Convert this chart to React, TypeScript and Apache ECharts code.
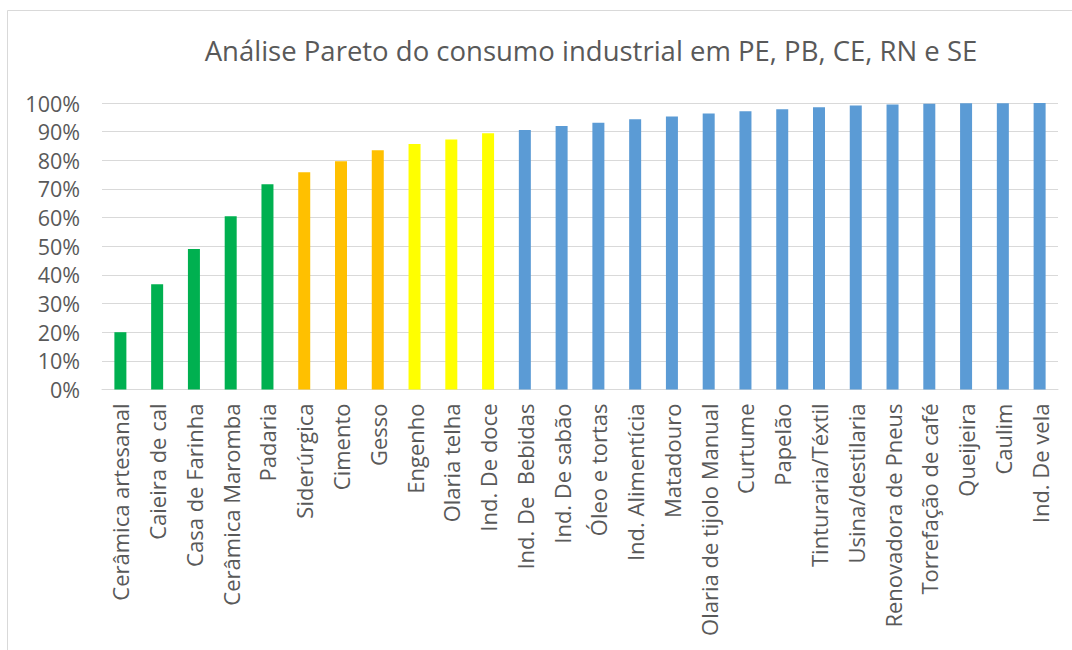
import React, { useEffect, useRef } from "react";
import * as echarts from "echarts";

const categories = [
  "Cerâmica artesanal", "Caieira de cal", "Casa de Farinha", "Cerâmica Maromba", "Padaria",
  "Siderúrgica", "Cimento", "Gesso", "Engenho", "Olaria telha", "Ind. De doce",
  "Ind. De  Bebidas", "Ind. De sabão", "Óleo e tortas", "Ind. Alimentícia", "Matadouro",
  "Olaria de tijolo Manual", "Curtume", "Papelão", "Tinturaria/Téxtil", "Usina/destilaria",
  "Renovadora de Pneus", "Torrefação de café", "Queijeira", "Caulim", "Ind. De vela",
];
const values = [
  0.200, 0.367, 0.490, 0.605, 0.716, 0.758, 0.797, 0.835, 0.857, 0.873, 0.894,
  0.906, 0.920, 0.931, 0.943, 0.953, 0.963, 0.971, 0.978, 0.985, 0.991,
  0.995, 0.997, 0.999, 0.999, 1.0,
];
const groups = [
  "A", "A", "A", "A", "A", "B", "B", "B", "C", "C", "C",
  "D", "D", "D", "D", "D", "D", "D", "D", "D", "D", "D", "D", "D", "D", "D",
];
const groupColors: Record<string, string> = {
  A: "#00B050",
  B: "#FFC000",
  C: "#FFFF00",
  D: "#5B9BD5",
};
const title = "Análise Pareto do consumo industrial em PE, PB, CE, RN e SE";

export default function App() {
  const ref = useRef<HTMLDivElement>(null);
  useEffect(() => {
    if (!ref.current) return;
    const chart = echarts.init(ref.current, undefined, { renderer: "svg" });
    chart.setOption({
      animation: false,
      backgroundColor: "#ffffff",
      title: {
        text: title,
        left: 586,
        top: 31,
        textAlign: "center",
        textStyle: {
          fontFamily: "Open Sans",
          fontWeight: "normal",
          fontSize: 27.5,
          color: "#595959",
        },
      },
      graphic: [
        {
          type: "rect",
          shape: { x: 7.5, y: 10.5, width: 1100, height: 700 },
          style: { fill: "none", stroke: "#d9d9d9", lineWidth: 1 },
          silent: true,
        },
      ],
      grid: { left: 102, right: 14, top: 103, bottom: 260.5, containLabel: false },
      xAxis: {
        type: "category",
        data: categories,
        axisLine: { show: true, lineStyle: { color: "#d9d9d9", width: 1 } },
        axisTick: { show: false },
        axisLabel: {
          interval: 0,
          rotate: 90,
          margin: 14,
          fontFamily: "Open Sans",
          fontSize: 22,
          color: "#595959",
        },
      },
      yAxis: {
        type: "value",
        min: 0,
        max: 1,
        interval: 0.1,
        axisLine: { show: false },
        axisTick: { show: false },
        splitLine: { lineStyle: { color: "#d9d9d9", width: 1 } },
        axisLabel: {
          formatter: (v: number) => Math.round(v * 100) + "%",
          fontFamily: "Open Sans",
          fontSize: 21.5,
          color: "#595959",
          margin: 22,
        },
      },
      series: [
        {
          type: "bar",
          barWidth: 12,
          data: values.map((v, i) => ({
            value: v,
            itemStyle: { color: groupColors[groups[i]] },
          })),
        },
      ],
    });
    return () => chart.dispose();
  }, []);
  return (
    <div
      ref={ref}
      style={{ position: "absolute", left: 0, top: 0, width: 1072, height: 650 }}
    />
  );
}
